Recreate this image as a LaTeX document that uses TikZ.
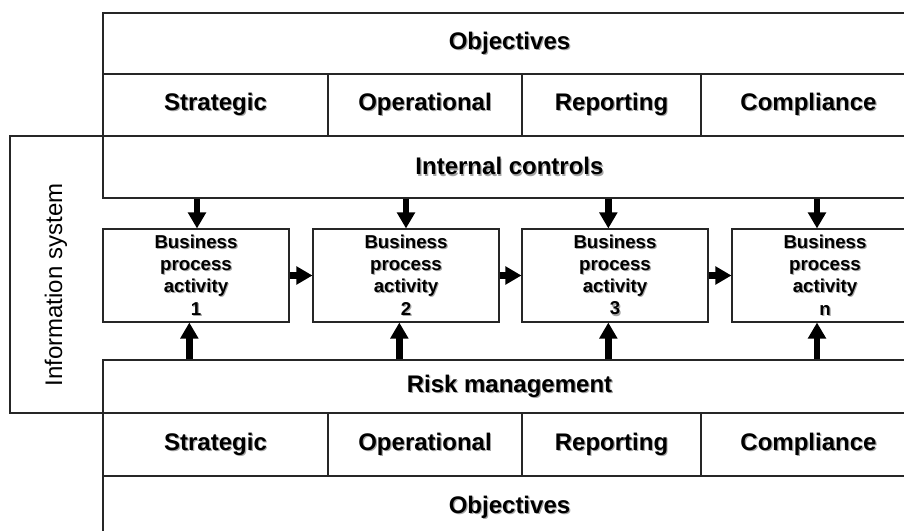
\documentclass[tikz,border=0pt]{standalone}
\usepackage{fontspec}
\setmainfont{Liberation Sans}
\usepackage{tikz}
\usetikzlibrary{arrows.meta}
\usetikzlibrary{fit}

\newcommand\shd[1]{\leavevmode\rlap{\kern0.9pt\raisebox{-0.9pt}{\textcolor{black!35}{#1}}}#1}

\tikzset{
  band/.style={draw=black!85, line width=0.8pt, inner sep=0pt},
  bandtext/.style={inner sep=0pt, font=\bfseries\fontsize{18}{20}\selectfont},
  acttext/.style={inner sep=0pt, align=center, font=\bfseries\fontsize{14}{16.7}\selectfont},
  flow/.style={line width=5pt, -{Triangle[length=12pt,width=13pt]}},
}

\begin{document}
\begin{tikzpicture}[x=0.75pt,y=-0.75pt]
        \useasboundingbox (0,0) rectangle (904,531);
        \clip (0,0) rectangle (904,531);
        % Information system frame
        \node[band, fit={(10,136) (916,413)}] (info) {};
        \node[rotate=90, font=\fontsize{18}{20}\selectfont] (infolabel) at (56,285) {Information system};
        % Objectives (top)
        \node[band, fit={(103,13) (916,74)}, label={[bandtext]center:\shd{Objectives}}] (objtop) {};
        \node[band, fit={(103,74) (328,136)}, label={[bandtext]center:\shd{Strategic}}] (strtop) {};
        \node[band, fit={(328,74) (522,136)}, label={[bandtext]center:\shd{Operational}}] (optop) {};
        \node[band, fit={(522,74) (701,136)}, label={[bandtext]center:\shd{Reporting}}] (reptop) {};
        \node[band, fit={(701,74) (916,136)}, label={[bandtext]center:\shd{Compliance}}] (comtop) {};
        \node[band, fit={(103,136) (916,198)}, label={[bandtext]center:\shd{Internal controls}}] (ic) {};
        % Activities
        \node[band, fit={(103,229) (289,322)}, label={[acttext]center:\shd{Business}\\\shd{process}\\\shd{activity}\\\shd{1}}] (a1) {};
        \node[band, fit={(313,229) (499,322)}, label={[acttext]center:\shd{Business}\\\shd{process}\\\shd{activity}\\\shd{2}}] (a2) {};
        \node[band, fit={(522,229) (708,322)}, label={[acttext]center:\shd{Business}\\\shd{process}\\\shd{activity}\\\shd{3}}] (a3) {};
        \node[band, fit={(732,229) (918,322)}, label={[acttext]center:\shd{Business}\\\shd{process}\\\shd{activity}\\\shd{n}}] (an) {};
        % Risk management and objectives (bottom)
        \node[band, fit={(103,360) (916,413)}, label={[bandtext]center:\shd{Risk management}}] (rm) {};
        \node[band, fit={(103,413) (328,476)}, label={[bandtext]center:\shd{Strategic}}] (strbot) {};
        \node[band, fit={(328,413) (522,476)}, label={[bandtext]center:\shd{Operational}}] (opbot) {};
        \node[band, fit={(522,413) (701,476)}, label={[bandtext]center:\shd{Reporting}}] (repbot) {};
        \node[band, fit={(701,413) (916,476)}, label={[bandtext]center:\shd{Compliance}}] (combot) {};
        \node[band, fit={(103,476) (916,540)}, label={[bandtext]center:\shd{Objectives}}] (objbot) {};
        % Arrows
        \draw[flow] ([xshift=0.75pt]a1.north |- ic.south) -- ([xshift=0.75pt]a1.north);
        \draw[flow] (a2.north |- ic.south) -- (a2.north);
        \draw[flow] ([xshift=-5pt]a3.north |- ic.south) -- ([xshift=-5pt]a3.north);
        \draw[flow] ([xshift=-6pt]an.north |- ic.south) -- ([xshift=-6pt]an.north);
        \draw[flow] ([xshift=-5pt]a1.south |- rm.north) -- ([xshift=-5pt]a1.south);
        \draw[flow] ([xshift=-5pt]a2.south |- rm.north) -- ([xshift=-5pt]a2.south);
        \draw[flow] ([xshift=-5pt]a3.south |- rm.north) -- ([xshift=-5pt]a3.south);
        \draw[flow] ([xshift=-6pt]an.south |- rm.north) -- ([xshift=-6pt]an.south);
        \draw[flow] (a1) -- (a2);
        \draw[flow] (a2) -- (a3);
        \draw[flow] (a3) -- (an);
\end{tikzpicture}
\end{document}
